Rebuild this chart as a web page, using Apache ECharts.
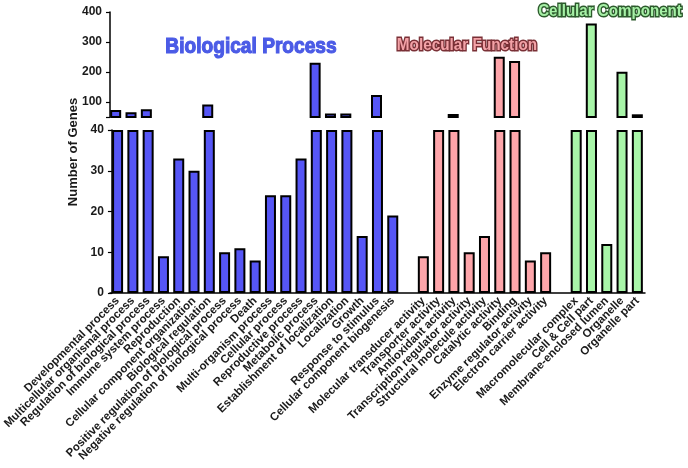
<!DOCTYPE html>
<html><head><meta charset="utf-8">
<script src="https://cdn.jsdelivr.net/npm/echarts@6/dist/echarts.min.js"></script>
<style>html,body{margin:0;padding:0;background:#fff}#c{width:688px;height:468px}</style>
</head><body><div id="c"></div>
<script>
// ---- data ----
const bpCategories = ['Developmental process','Multicellular organismal process','Regulation of biological process','Immune system process','Reproduction','Cellular component organization','Biological regulation','Positive regulation of biological process','Negative regulation of biological process','Death','Multi-organism process','Cellular process','Reproductive process','Metabolic process','Establishment of localization','Localization','Growth','Response to stimulus','Cellular component biogenesis'];
const bpValues = [73, 66, 76, 9, 33, 30, 92, 10, 11, 8, 24, 24, 33, 231, 62, 62, 14, 123, 19];
const mfCategories = ['Molecular transducer activity','Transporter activity','Antioxidant activity','Transcription regulator activity','Structural molecule activity','Catalytic activity','Binding','Enzyme regulator activity','Electron carrier activity'];
const mfValues = [9, 51, 60, 10, 14, 251, 237, 8, 10];
const ccCategories = ['Macromolecular complex','Cell & Cell part','Membrane-enclosed lumen','Organelle','Organelle part'];
const ccValues = [51, 362, 12, 201, 59];
const upperTicks = [50, 100, 200, 300, 400];
const upperLabels = [100, 200, 300, 400];
const groupTitles = ['Biological Process', 'Molecular Function', 'Cellular Component'];

// ---- build ----
const categories = [...bpCategories, ' ', ...mfCategories, '  ', ...ccCategories];
const n = categories.length;
function place(vals, start) {
  const arr = new Array(n).fill(null);
  vals.forEach((v, i) => { arr[start + i] = v; });
  return arr;
}
const groups = [
  { vals: place(bpValues, 0), color: '#5656f6' },
  { vals: place(mfValues, bpCategories.length + 1), color: '#fda5aa' },
  { vals: place(ccValues, bpCategories.length + mfCategories.length + 2), color: '#a8f5a8' }
];
const LOW_MAX = 40, UP_MIN = 50;
const series = [];
groups.forEach(g => {
  const base = { type: 'bar', barWidth: 11, barGap: '-100%', silent: true,
    itemStyle: { color: g.color, borderColor: '#000', borderWidth: 2 } };
  series.push(Object.assign({}, base, { xAxisIndex: 1, yAxisIndex: 1,
    data: g.vals.map(v => v == null ? null : Math.min(v, LOW_MAX)) }));
  series.push(Object.assign({}, base, { xAxisIndex: 0, yAxisIndex: 0, clip: true,
    data: g.vals.map(v => v == null || v < UP_MIN ? null : v) }));
});

const axisFont = { fontFamily: "'Liberation Sans', Arial, sans-serif", fontWeight: 'bold', color: '#1a1a1a' };
const titleFont = "bold 22px 'Liberation Sans', Arial, sans-serif";
const subFont = "bold 17px 'Liberation Sans', Arial, sans-serif";
const chart = echarts.init(document.getElementById('c'), null, { renderer: 'canvas' });
chart.setOption({
  animation: false,
  grid: [
    { left: 108, width: 537, top: 12, height: 105 },
    { left: 108, width: 537, top: 130, height: 163 }
  ],
  xAxis: [
    { gridIndex: 0, type: 'category', data: categories, show: false },
    { gridIndex: 1, type: 'category', data: categories,
      axisLine: { lineStyle: { color: '#000', width: 1.5 } },
      axisTick: { alignWithLabel: true, interval: 0, length: 4, lineStyle: { color: '#000', width: 1.2 } },
      axisLabel: Object.assign({ interval: 0, rotate: 45, fontSize: 11.5, margin: 6 }, axisFont) }
  ],
  yAxis: [
    { gridIndex: 0, type: 'value', min: UP_MIN, max: 400, offset: -2,
      splitLine: { show: false },
      axisLine: { show: true, lineStyle: { color: '#000', width: 1.5 } },
      axisTick: { show: true, length: 4, customValues: upperTicks, lineStyle: { color: '#000', width: 1.2 } },
      axisLabel: Object.assign({ customValues: upperLabels, fontSize: 12, margin: 8 }, axisFont) },
    { gridIndex: 1, type: 'value', min: 0, max: LOW_MAX, interval: 10, offset: -2,
      splitLine: { show: false },
      axisLine: { show: true, lineStyle: { color: '#000', width: 1.5 } },
      axisTick: { show: true, length: 4, lineStyle: { color: '#000', width: 1.2 } },
      axisLabel: Object.assign({ fontSize: 12, margin: 8 }, axisFont) }
  ],
  series: series,
  graphic: [
    { type: 'text', x: 73, y: 152, rotation: Math.PI / 2,
      style: { text: 'Number of Genes', fill: '#1a1a1a', align: 'center', verticalAlign: 'middle',
        font: "bold 13px 'Liberation Sans', Arial, sans-serif" } },
    { type: 'text', x: 251, y: 47, scaleX: 0.87,
      style: { text: groupTitles[0], fill: '#4b5be6', stroke: '#4b5be6', lineWidth: 1.2,
        align: 'center', verticalAlign: 'middle', font: titleFont } },
    { type: 'text', x: 467, y: 45, scaleX: 0.9,
      style: { text: groupTitles[1], fill: '#f3a2a7', stroke: '#7a3036', lineWidth: 3, strokeFirst: true,
        align: 'center', verticalAlign: 'middle', font: subFont } },
    { type: 'text', x: 610, y: 11, scaleX: 0.89,
      style: { text: groupTitles[2], fill: '#a6f0a6', stroke: '#2d5a2d', lineWidth: 3, strokeFirst: true,
        align: 'center', verticalAlign: 'middle', font: subFont } }
  ]
});
</script></body></html>
